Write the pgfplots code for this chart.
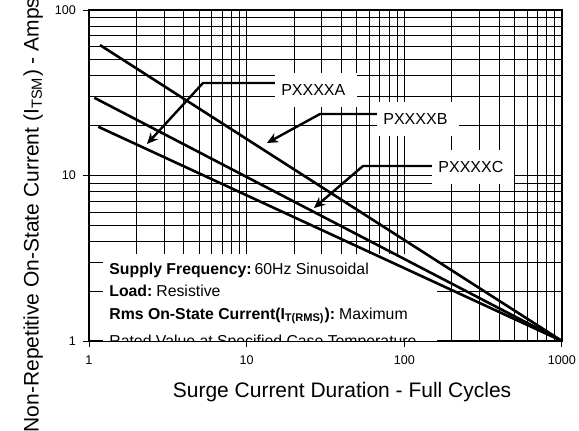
\documentclass[border=0pt]{standalone}
\usepackage{fontspec}
\setmainfont{Liberation Sans}
\usepackage{pgfplots}
\pgfplotsset{compat=1.18}
\usetikzlibrary{arrows.meta}

\begin{document}
\begin{tikzpicture}
\begin{axis}[
  at={(0,0)}, anchor=south west,
  scale only axis, width=236.5pt, height=165.5pt,
  xmode=log, ymode=log,
  xmin=1, xmax=1000, ymin=1, ymax=100,
  xtick={1,10,100,1000}, xticklabels={1,10,100,1000},
  ytick={1,10,100}, yticklabels={1,10,100},
  minor xtick={2,3,4,5,6,7,8,9,20,30,40,50,60,70,80,90,200,300,400,500,600,700,800,900},
  minor ytick={2,3,4,5,6,7,8,9,20,30,40,50,60,70,80,90},
  grid=both,
  major grid style={black, line width=0.55pt},
  minor grid style={black, line width=0.5pt},
  tick align=outside,
  xtick pos=left, ytick pos=left,
  major tick length=3pt, minor tick length=0pt,
  tick style={black, line width=0.5pt},
  axis line style={line width=1.3pt},
  ticklabel style={font=\fontsize{6.3}{7}\selectfont},
  xticklabel style={yshift=-1pt},
  /pgf/number format/assume math mode=true,
  xlabel={Surge Current Duration - Full Cycles},
  xlabel style={at={(rel axis cs:0.535,-0.154)}, anchor=center, font=\fontsize{10.5}{12}\selectfont},
  ylabel={Non-Repetitive On-State Current (I\textsubscript{TSM}) - Amps},
  ylabel style={at={(rel axis cs:-0.118,0.381)}, anchor=center, rotate=0, font=\fontsize{10.5}{12}\selectfont},
]
% information box (under the curves)
\begin{scope}
\clip (rel axis cs:0,0) rectangle (rel axis cs:1,1);
\fill[white] (rel axis cs:0.0296,0) rectangle (rel axis cs:0.7357,0.2628);
\node[anchor=base west, inner sep=0pt, font=\fontsize{7.9}{9}\selectfont] at (rel axis cs:0.0423,0.2024) {\textbf{Supply Frequency:}\hspace{1.5pt}60Hz Sinusoidal};
\node[anchor=base west, inner sep=0pt, font=\fontsize{7.9}{9}\selectfont] at (rel axis cs:0.0423,0.1338) {\textbf{Load:}\hspace{2pt}Resistive};
\node[anchor=base west, inner sep=0pt, font=\fontsize{7.9}{9}\selectfont] at (rel axis cs:0.0423,0.0656) {\textbf{Rms On-State Current(I\textsubscript{T(RMS)}):}\hspace{2pt}Maximum};
\node[anchor=base west, inner sep=0pt, font=\fontsize{7.9}{9}\selectfont] at (rel axis cs:0.0423,-0.017) {Rated Value at Specified Case Temperature};
\end{scope}

% curves
\addplot[black, line width=1.3pt, no marks] coordinates {(1.174,61.4) (1000,1)};
\addplot[black, line width=1.3pt, no marks] coordinates {(1.081,29.5) (1000,1)};
\addplot[black, line width=1.3pt, no marks] coordinates {(1.146,19.7) (1000,1)};

% annotations
\tikzset{lab/.style={fill=white, anchor=west, inner xsep=3pt, text width=35pt, align=left, minimum height=17pt, font=\fontsize{8}{9}\selectfont},
         arr/.style={black, line width=1.2pt, -{Stealth[length=5.5pt,width=5pt]}}}
\draw[arr] (rel axis cs:0.393,0.7795) -- (rel axis cs:0.241,0.7795) -- (rel axis cs:0.1226,0.5952);
\node[lab] at (rel axis cs:0.393,0.7583) {PXXXXA};
\draw[arr] (rel axis cs:0.6089,0.6858) -- (rel axis cs:0.4884,0.6858) -- (rel axis cs:0.3763,0.5982);
\node[lab] at (rel axis cs:0.6089,0.6707) {PXXXXB};
\draw[arr] (rel axis cs:0.7252,0.5287) -- (rel axis cs:0.5793,0.5287) -- (rel axis cs:0.4757,0.4018);
\node[lab] at (rel axis cs:0.7252,0.5257) {PXXXXC};
\end{axis}
\pgfresetboundingbox
\path[use as bounding box] (-44.5pt,-44.5pt) rectangle (245pt,170.5pt);
\end{tikzpicture}
\end{document}
